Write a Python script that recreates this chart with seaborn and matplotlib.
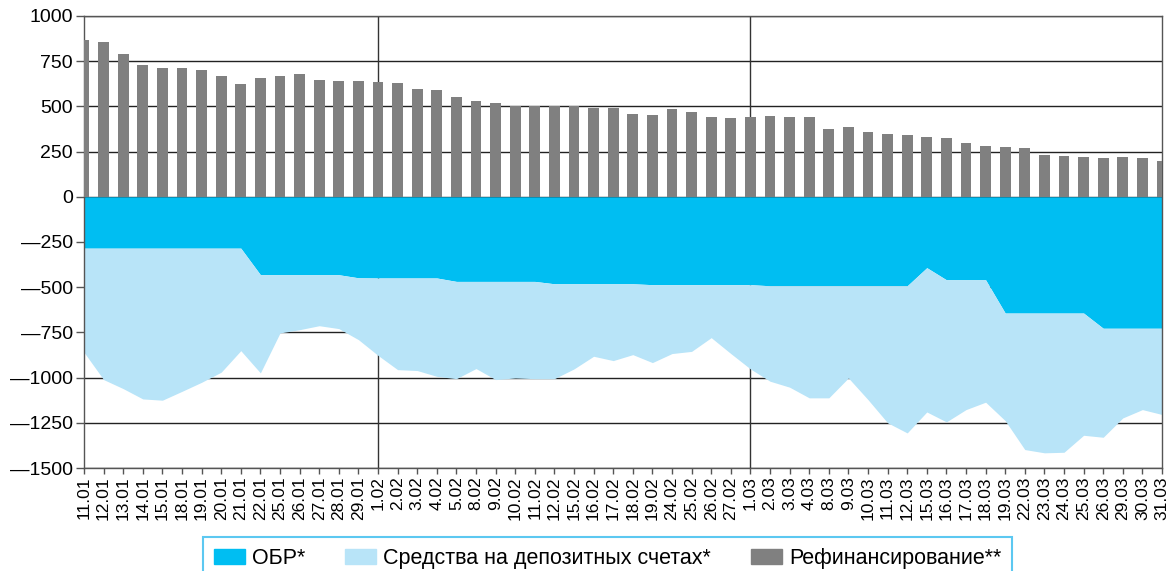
import numpy as np
import pandas as pd
import seaborn as sns
import matplotlib.pyplot as plt
from matplotlib.patches import Patch

# dates (trading days, Jan-Mar)
dates = ['11.01', '12.01', '13.01', '14.01', '15.01', '18.01', '19.01', '20.01', '21.01', '22.01',
         '25.01', '26.01', '27.01', '28.01', '29.01',
         '1.02', '2.02', '3.02', '4.02', '5.02', '8.02', '9.02', '10.02', '11.02', '12.02',
         '15.02', '16.02', '17.02', '18.02', '19.02', '24.02', '25.02', '26.02', '27.02',
         '1.03', '2.03', '3.03', '4.03', '8.03', '9.03', '10.03', '11.03', '12.03', '15.03',
         '16.03', '17.03', '18.03', '19.03', '22.03', '23.03', '24.03', '25.03', '26.03',
         '29.03', '30.03', '31.03']

# Рефинансирование
refin = [867, 856, 790, 729, 713, 713, 702, 668, 624, 657,
         668, 680, 646, 641, 641,
         635, 630, 597, 591, 552, 530, 519, 503, 503, 503,
         503, 492, 492, 459, 453, 486, 470, 442, 436,
         442, 448, 442, 442, 376, 387, 359, 348, 343, 331,
         326, 298, 282, 276, 271, 232, 227, 221, 215,
         221, 215, 199]

# ОБР (negative)
obr = [-284, -284, -284, -284, -284, -284, -284, -284, -284, -431,
       -431, -431, -431, -431, -448,
       -449, -449, -449, -449, -468, -468, -468, -468, -468, -481,
       -481, -481, -481, -481, -486, -486, -486, -486, -486,
       -486, -492, -492, -492, -492, -492, -492, -492, -492, -392,
       -459, -459, -459, -643, -643, -643, -643, -643, -727,
       -727, -727, -727]

# lower edge of deposits area (ОБР + депозиты)
total_low = [-860, -1011, -1061, -1118, -1125, -1076, -1026, -970, -851, -974,
             -753, -735, -713, -729, -790,
             -877, -956, -961, -993, -1006, -950, -1011, -1002, -1006, -1006,
             -952, -882, -906, -873, -917, -867, -855, -779, -867,
             -952, -1020, -1053, -1112, -1112, -1002, -1122, -1250, -1306, -1190,
             -1245, -1177, -1136, -1238, -1398, -1416, -1413, -1319, -1330,
             -1223, -1177, -1204]

df = pd.DataFrame({'date': dates, 'refin': refin, 'obr': obr, 'low': total_low})
deposits = df['low'] - df['obr']

plt.rcParams['font.family'] = ['Liberation Sans', 'DejaVu Sans']

c_obr = '#00BEF2'
c_dep = '#B8E4F8'
c_ref = '#808080'

fig = plt.figure(figsize=(11.73, 5.71), dpi=100)
ax = fig.add_axes([84 / 1173, 1 - 468 / 571, (1162 - 84) / 1173, (468 - 16) / 571])

x = np.arange(len(df))
ax.fill_between(x, 0, df['obr'], color=c_obr, lw=0, zorder=2)
ax.fill_between(x, df['obr'], df['obr'] + deposits, color=c_dep, lw=0, zorder=2)
sns.barplot(data=df, x='date', y='refin', color=c_ref, width=0.56, saturation=1,
            ax=ax, zorder=3)

ax.set_xlim(0, len(df) - 1)
ax.set_ylim(-1500, 1000)
yt = np.arange(-1500, 1001, 250)
ax.set_yticks(yt)
ax.set_yticklabels([str(v) if v >= 0 else '\u2014' + str(-v) for v in yt], fontsize=14)
ax.set_xticks(x)
ax.set_xticklabels(dates, rotation=90, fontsize=12.5)
ax.set_xlabel('')
ax.set_ylabel('')

for v in yt:
    ax.axhline(v, color='#222222', lw=1, zorder=1)
for i in [dates.index('1.02'), dates.index('1.03')]:
    ax.axvline(i, color='#333333', lw=1, zorder=1)

for s in ax.spines.values():
    s.set_color('#555555')
    s.set_linewidth(1)
ax.tick_params(axis='x', length=4, width=1, color='#555555', pad=2)
ax.tick_params(axis='y', length=6, width=1, color='#555555', pad=2)

handles = [Patch(color=c_obr, label='ОБР*'),
           Patch(color=c_dep, label='Средства на депозитных счетах*'),
           Patch(color=c_ref, label='Рефинансирование**')]
leg = fig.legend(handles=handles, loc='upper left', bbox_to_anchor=(203 / 1173, 1 - 537 / 571),
                 ncol=3, fontsize=15.5, frameon=True, fancybox=False,
                 handlelength=1.45, handleheight=0.7, handletextpad=0.33,
                 columnspacing=1.85, borderpad=0.5, borderaxespad=0)
leg.get_frame().set_edgecolor('#33BBEE')
leg.get_frame().set_linewidth(1.5)

fig.savefig('out.png', dpi=100)
